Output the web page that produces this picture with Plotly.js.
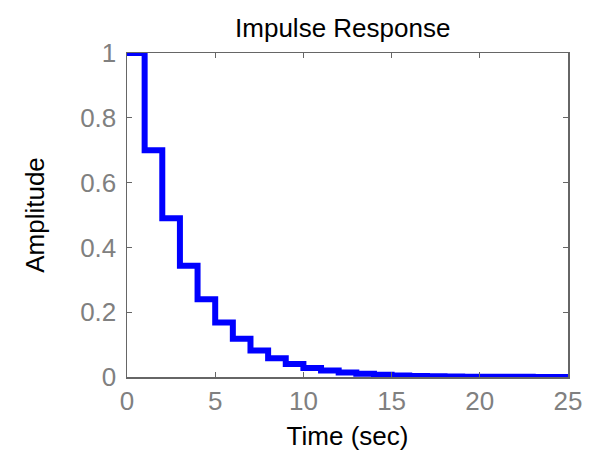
<!DOCTYPE html>
<html><head><meta charset="utf-8">
<script src="https://cdn.plot.ly/plotly-3.0.1.min.js"></script>
<style>html,body{margin:0;padding:0;background:#fff}#c{width:594px;height:463px}</style>
</head><body><div id="c"></div>
<script>
const timeSec = [0,1,2,3,4,5,6,7,8,9,10,11,12,13,14,15,16,17,18,19,20,21,22,23,24,25];
const amplitude = [1.0,0.70,0.49,0.343,0.24,0.168,0.118,0.082,0.058,0.040,0.028,0.020,0.014,0.010,0.007,0.005,0.003,0.002,0.0016,0.0011,0.0008,0.0006,0.0004,0.0003,0.0002,0.0001];
const xTicks = [0,5,10,15,20,25];
const yTicks = [0,0.2,0.4,0.6,0.8,1];
const yTickText = ['0','0.2','0.4','0.6','0.8','1'];

const FONT = 'Liberation Sans, Arial, sans-serif';
const axisCommon = {
  showline:true, linecolor:'#666', linewidth:1.5, mirror:'ticks',
  ticks:'inside', ticklen:5, tickcolor:'#666', tickwidth:1,
  showgrid:false, zeroline:false,
  tickfont:{family:FONT, size:26, color:'#808080'}
};
Plotly.newPlot('c', [{
  x: timeSec, y: amplitude, type:'scatter', mode:'lines',
  line:{shape:'hv', color:'#0000ff', width:6}
}], {
  width:594, height:463,
  margin:{l:127, r:26, t:53, b:86},
  paper_bgcolor:'#fff', plot_bgcolor:'#fff',
  showlegend:false,
  title:{text:'Impulse Response', x:0.577, xanchor:'center', y:0.94, yanchor:'middle',
    font:{family:FONT, size:26, color:'#000'}},
  xaxis: Object.assign({}, axisCommon, {range:[0,25], tickvals:xTicks, ticktext:xTicks.map(String), ticklabelstandoff:0,
    title:{text:'Time (sec)', standoff:12, font:{family:FONT, size:26, color:'#000'}}}),
  yaxis: Object.assign({}, axisCommon, {range:[0,1], tickvals:yTicks, ticktext:yTickText, ticklabelstandoff:4,
    title:{text:'Amplitude', standoff:28, font:{family:FONT, size:26, color:'#000'}}})
}, {displayModeBar:false, staticPlot:true});
</script></body></html>
